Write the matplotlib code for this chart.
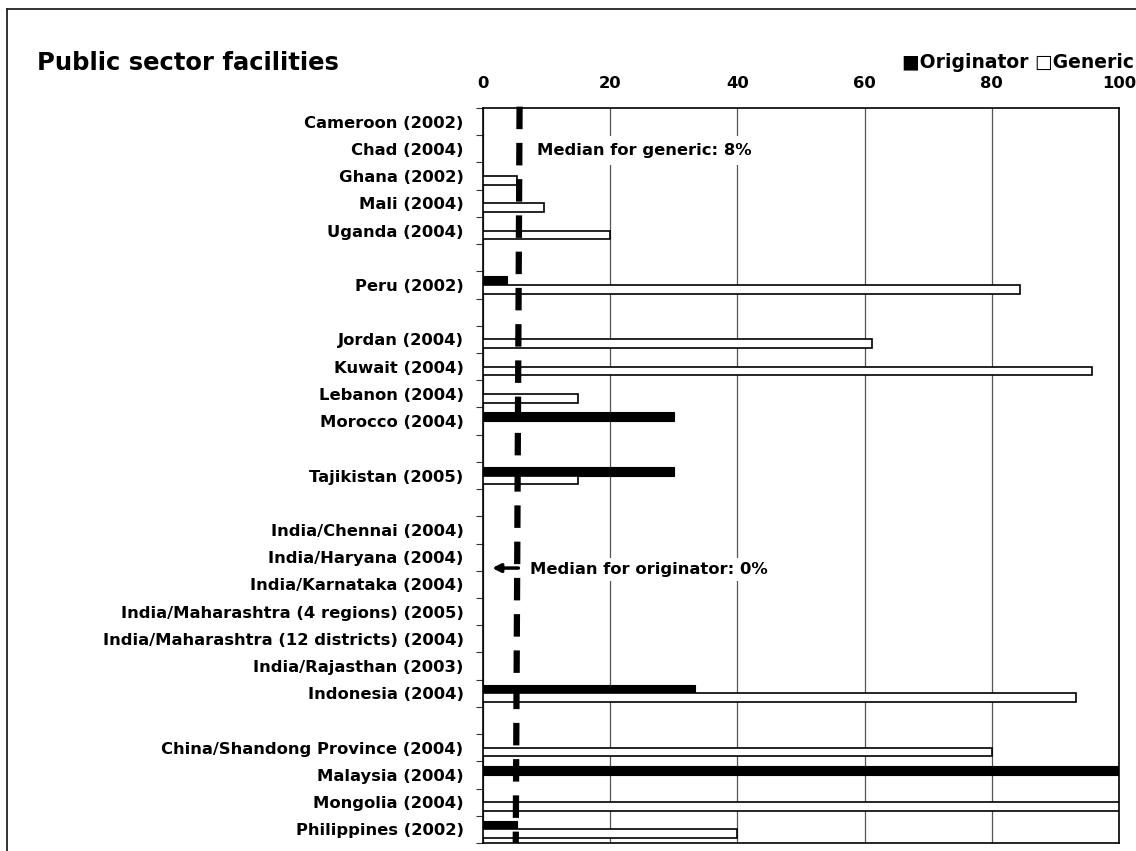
import numpy as np
import matplotlib
matplotlib.use("Agg")
import matplotlib.pyplot as plt
from matplotlib.lines import Line2D

# 类别（空字符串为分组间的空行）
categories = ["Cameroon (2002)", "Chad (2004)", "Ghana (2002)", "Mali (2004)", "Uganda (2004)", "",
              "Peru (2002)", "",
              "Jordan (2004)", "Kuwait (2004)", "Lebanon (2004)", "Morocco (2004)", "",
              "Tajikistan (2005)", "",
              "India/Chennai (2004)", "India/Haryana (2004)", "India/Karnataka (2004)",
              "India/Maharashtra (4 regions) (2005)", "India/Maharashtra (12 districts) (2004)",
              "India/Rajasthan (2003)", "Indonesia (2004)", "",
              "China/Shandong Province (2004)", "Malaysia (2004)", "Mongolia (2004)", "Philippines (2002)"]

nan = np.nan
originator = [nan, nan, nan, nan, nan, nan,
              3.8, nan,
              nan, nan, nan, 30, nan,
              30, nan,
              nan, nan, nan, nan, nan, nan, 33.4, nan,
              nan, 100, nan, 5.3]
generic = [nan, nan, 5.4, 9.6, 20, nan,
           84.4, nan,
           61.1, 95.8, 14.9, nan, nan,
           15, nan,
           nan, nan, nan, nan, nan, nan, 93.2, nan,
           80, nan, 100, 40]

xticks = [0, 20, 40, 60, 80, 100]
median_generic_top = 5.75   # 虚线上端
median_generic_bottom = 5.15  # 虚线下端

fs = 11.8
fig = plt.figure(figsize=(11.36, 8.51), dpi=100)
ax = fig.add_axes([483/1136, 8/851, (1119-483)/1136, (843-108)/851])

n = len(categories)
y = np.arange(n)
h = 0.32
ax.barh(y - h/2, originator, height=h, color="black", edgecolor="black", linewidth=0.8, zorder=3)
ax.barh(y + h/2, generic, height=h, color="white", edgecolor="black", linewidth=1.2, zorder=3)

ax.set_xlim(0, 100)
ax.set_ylim(n - 0.5, -0.5)

# x 轴在上方
ax.xaxis.tick_top()
ax.set_xticks(xticks)
ax.set_xticklabels([str(t) for t in xticks], fontsize=fs, fontweight="bold")
ax.tick_params(axis="x", length=0, pad=12)
ax.grid(axis="x", color="#555555", linewidth=0.9, zorder=1)

# y 轴：刻度在分界线，标签在中间
ax.set_yticks(np.arange(n + 1) - 0.5)
ax.set_yticklabels([])
ax.set_yticks(y, minor=True)
ax.set_yticklabels(categories, minor=True, fontsize=fs, fontweight="bold")
ax.tick_params(axis="y", which="major", length=5, direction="out", color="#333333")
ax.tick_params(axis="y", which="minor", length=0, pad=14)

for s in ax.spines.values():
    s.set_color("black")
    s.set_linewidth(1.2)

# 中位数虚线
ax.plot([median_generic_top, median_generic_bottom], [-0.55, n - 0.5], color="black",
        linewidth=4.5, linestyle=(0, (3.6, 2.2)), zorder=5, clip_on=False)

ax.text(8.5, 1.05, "Median for generic: 8%", fontsize=fs, fontweight="bold", va="center",
        ha="left", zorder=4, bbox=dict(facecolor="white", edgecolor="none", pad=5))
ax.text(7.4, 16.45, "Median for originator: 0%", fontsize=fs, fontweight="bold", va="center",
        ha="left", zorder=4, bbox=dict(facecolor="white", edgecolor="none", pad=3))
ax.annotate("", xy=(1.0, 16.4), xytext=(6.0, 16.4), zorder=6,
            arrowprops=dict(arrowstyle="-|>", color="black", lw=2.5, mutation_scale=12))

fig.text(37/1136, 1 - 63/851, "Public sector facilities", fontsize=17.5, fontweight="bold",
         va="center", ha="left")
fig.text(1134/1136, 1 - 62/851, "\u25a0Originator \u25a1Generic", fontsize=13.5, fontweight="bold",
         va="center", ha="right")

# 外框
fig.add_artist(Line2D([7/1136, 7/1136], [-0.1, 1 - 9/851], color="#222222", linewidth=1.3))
fig.add_artist(Line2D([7/1136, 1.1], [1 - 9/851, 1 - 9/851], color="#222222", linewidth=1.3))

fig.savefig("out.png", dpi=100)
